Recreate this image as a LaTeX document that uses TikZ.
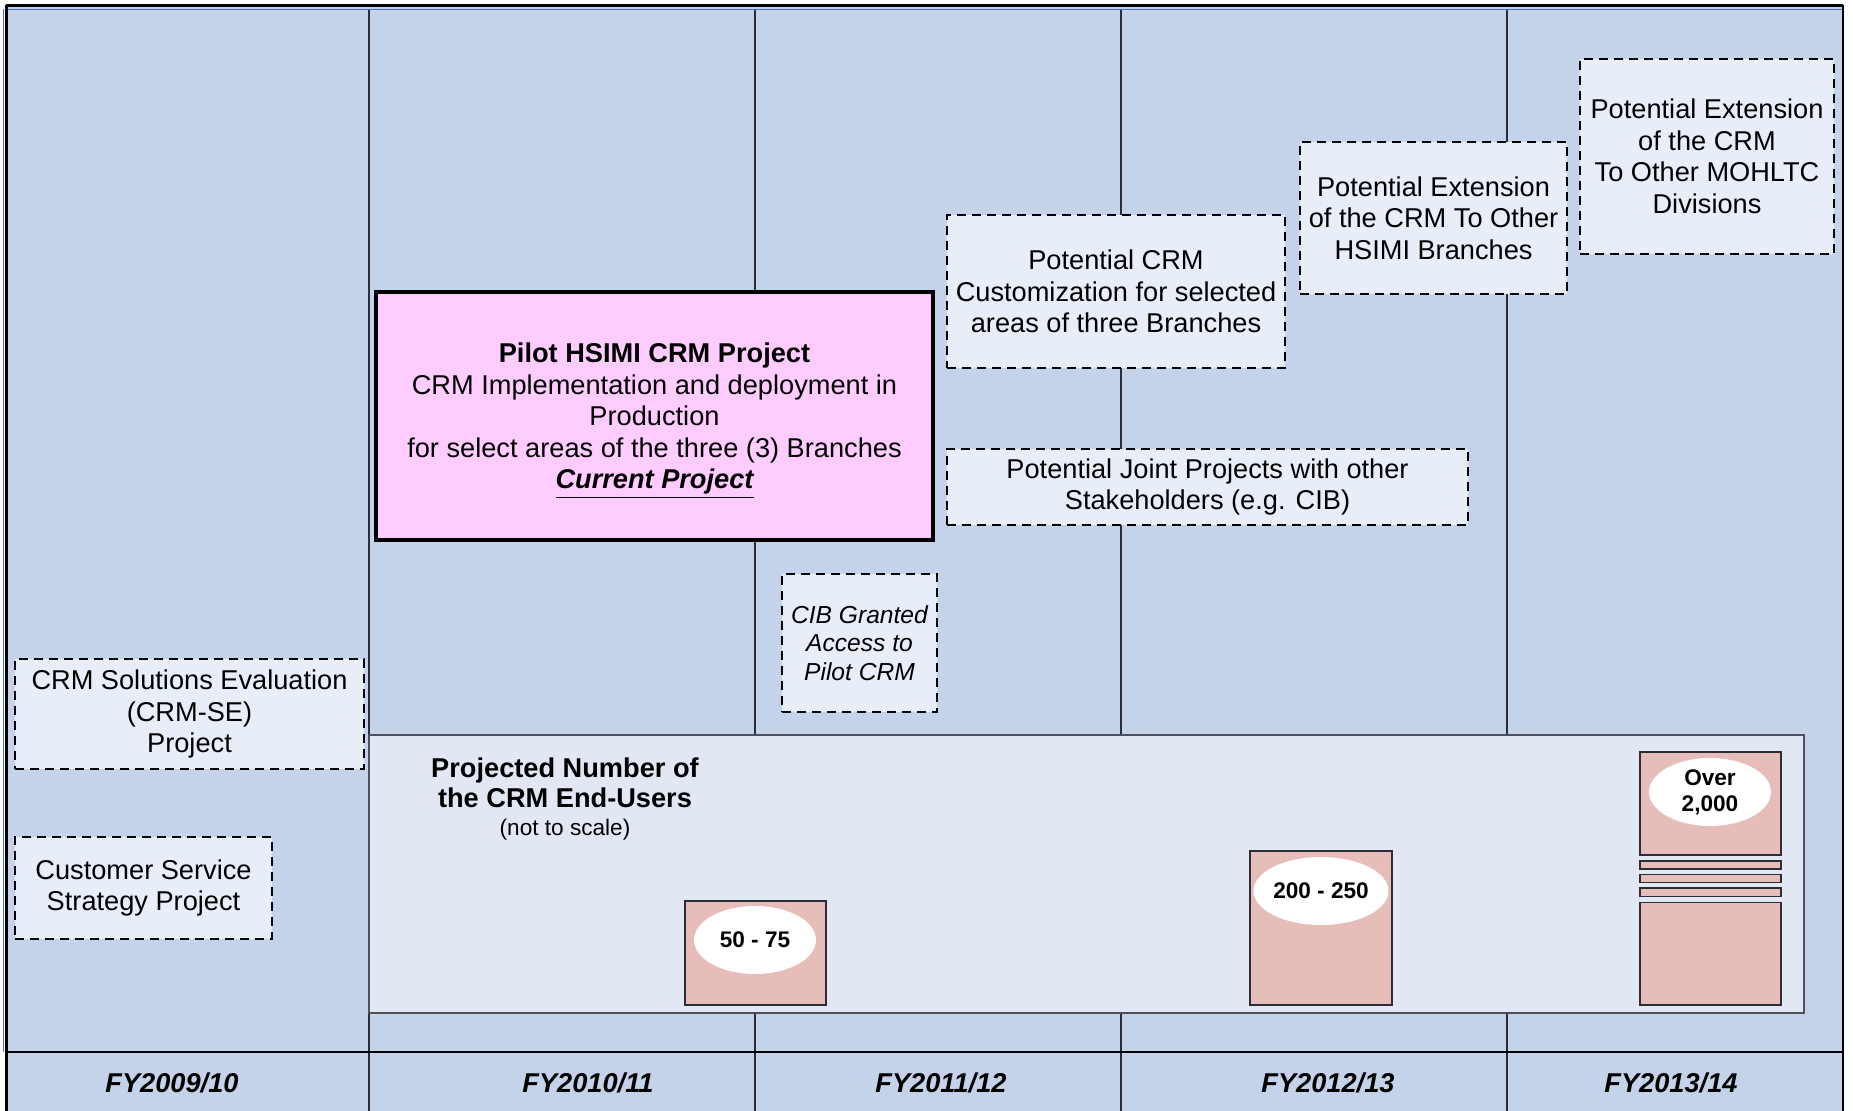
\documentclass[tikz,border=0pt]{standalone}
\usepackage{fontspec}
\setmainfont{Liberation Sans}
\usetikzlibrary{shapes.geometric}
\definecolor{bgblue}{RGB}{197,211,234}
\definecolor{boxfill}{RGB}{232,238,248}
\definecolor{panelfill}{RGB}{225,232,244}
\definecolor{pilotpink}{RGB}{255,204,255}
\definecolor{barrose}{RGB}{230,189,185}
\definecolor{frameblue}{RGB}{68,114,196}
\definecolor{gridgray}{RGB}{45,45,55}
\definecolor{panelline}{RGB}{80,80,90}
\tikzset{
  mainfont/.style={font=\fontsize{13.6}{15.75}\selectfont},
  dashbox/.style={draw=black, fill=boxfill, line width=1pt, dash pattern=on 4.5pt off 3pt,
    inner sep=0pt, align=center, mainfont},
  pilotbox/.style={draw=black, fill=pilotpink, line width=1.75pt, inner sep=0pt, align=center, mainfont},
  panelbox/.style={draw=panelline, fill=panelfill, line width=0.9pt, inner sep=0pt},
  barbox/.style={draw=gridgray, fill=barrose, line width=0.7pt, inner sep=0pt, minimum width=70.5pt},
  countoval/.style={ellipse, fill=white, inner sep=0pt, minimum width=61pt, minimum height=34pt,
    align=center, font=\fontsize{11.3}{12}\selectfont\bfseries},
  fylabel/.style={font=\fontsize{13.6}{15.75}\selectfont\bfseries\itshape, inner sep=0pt},
  gridline/.style={draw=gridgray, line width=0.6pt},
}
\begin{document}
\begin{tikzpicture}[x=0.5pt,y=-0.5pt]
\useasboundingbox (0,0) rectangle (1853,1111);
% background
\fill[bgblue] (6,5) rectangle (1843,1111);
% year grid lines
\foreach \gx in {369,755,1121,1507} { \draw[gridline] (\gx,9) -- (\gx,1111); }
% frame
\draw[frameblue, line width=0.9pt] (6,9.5) -- (1843,9.5);
\draw[frameblue, line width=0.9pt] (3.5,9.5) -- (3.5,1052);
\draw[black, line width=1.1pt] (6,5.5) -- (1843,5.5);
\draw[black, line width=1.2pt] (6.5,5) -- (6.5,1111);
\draw[black, line width=1pt] (1843,5) -- (1843,1111);
\draw[black, line width=1.3pt] (6,1052) -- (1843,1052);

% users panel
\node[panelbox, minimum width=717.5pt, minimum height=139pt] (panel) at (1086.5,874) {};
\node[align=center, inner sep=0pt] (ptitle) at (565,799)
  {\fontsize{13.6}{15.5}\selectfont\bfseries Projected Number of\\[1.3pt]
   \fontsize{13.6}{15.5}\selectfont\bfseries the CRM End-Users\\[2.1pt]
   \fontsize{11.3}{14.5}\selectfont (not to scale)};

% bars
\node[barbox, minimum height=52pt] (bar1) at (755.5,953) {};
\node[barbox, minimum width=71pt, minimum height=77pt] (bar2) at (1321,928) {};
\node[barbox, minimum height=51.5pt] (bar3top) at (1710.5,803.5) {};
\node[barbox, minimum height=4pt] (stripeA) at (1710.5,865) {};
\node[barbox, minimum height=4pt] (stripeB) at (1710.5,878.6) {};
\node[barbox, minimum height=4.2pt] (stripeC) at (1710.5,892.2) {};
\node[barbox, minimum height=51.25pt] (bar3bot) at (1710.5,953.75) {};
\node[countoval] (c1) at (755,940) {50 - 75};
\node[countoval] (c2) at (1321,891) {200 - 250};
\node[countoval] (c3) at (1710,792) {Over\\[1pt]2,000};

% project boxes
\node[pilotbox, minimum width=278.5pt, minimum height=124pt] (pilot) at (654.5,416)
  {\textbf{Pilot HSIMI CRM Project}\\
   CRM Implementation and deployment in\\
   Production\\
   for select areas of the three (3) Branches\\
   \smash{\textbf{\textit{\underline{Current Project}}}}};
\node[dashbox, minimum width=169pt, minimum height=76.5pt] (cust) at (1116,291.5)
  {Potential CRM\\Customization for selected\\areas of three Branches};
\node[dashbox, minimum width=133.5pt, minimum height=76pt] (hsimi) at (1433.5,218)
  {Potential Extension\\of the CRM To Other\\HSIMI Branches};
\node[dashbox, minimum width=127pt, minimum height=97.5pt] (mohltc) at (1707,156.5)
  {Potential Extension\\of the CRM\\To Other MOHLTC\\Divisions};
\node[dashbox, minimum width=260.5pt, minimum height=38pt] (joint) at (1207.5,487)
  {Potential Joint Projects with other\\Stakeholders (e.g. CIB)};
\node[dashbox, minimum width=77.5pt, minimum height=69pt, font=\fontsize{12.3}{14.35}\selectfont\itshape] (cib) at (859.5,643)
  {CIB Granted\\Access to\\Pilot CRM};
\node[dashbox, minimum width=174.5pt, minimum height=55pt] (crmse) at (189.5,714)
  {CRM Solutions Evaluation\\(CRM-SE)\\Project};
\node[dashbox, minimum width=128.5pt, minimum height=51pt] (css) at (143.5,888)
  {Customer Service\\Strategy Project};

% fiscal years
\node[fylabel] (fy1) at (172,1083) {FY2009/10};
\node[fylabel] (fy2) at (588,1083) {FY2010/11};
\node[fylabel] (fy3) at (941,1083) {FY2011/12};
\node[fylabel] (fy4) at (1328,1083) {FY2012/13};
\node[fylabel] (fy5) at (1671,1083) {FY2013/14};
\end{tikzpicture}
\end{document}
